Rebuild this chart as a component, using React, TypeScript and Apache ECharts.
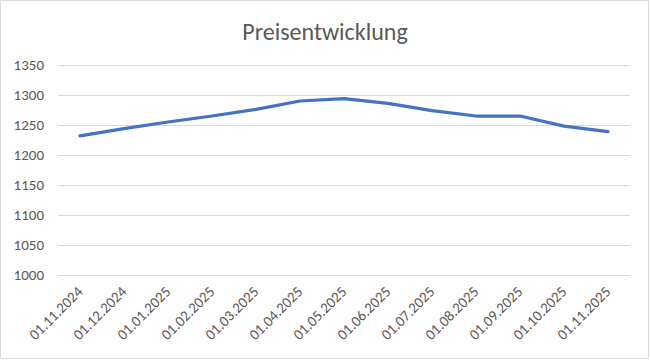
import React, { useEffect, useRef } from "react";
import * as echarts from "echarts";

const categories = [
  "01.11.2024", "01.12.2024", "01.01.2025", "01.02.2025", "01.03.2025",
  "01.04.2025", "01.05.2025", "01.06.2025", "01.07.2025", "01.08.2025",
  "01.09.2025", "01.10.2025", "01.11.2025",
];
const prices = [1232, 1244, 1255, 1265, 1276, 1290, 1294, 1286, 1274, 1265, 1265, 1248, 1239];
const titleText = "Preisentwicklung";

export default function App() {
  const ref = useRef<HTMLDivElement>(null);
  useEffect(() => {
    document.body.style.margin = "0";
    const chart = echarts.init(ref.current!, null, { renderer: "svg" });
    const font = "Calibri, Carlito, 'Open Sans', 'Liberation Sans', sans-serif";
    chart.setOption({
      animation: false,
      backgroundColor: "#ffffff",
      title: {
        text: titleText,
        left: "center",
        top: 14,
        textStyle: { fontFamily: font, fontSize: 24, fontWeight: "normal", color: "#595959" },
      },
      grid: { left: 58, right: 20, top: 65, bottom: 85, containLabel: false },
      xAxis: {
        type: "category",
        data: categories,
        boundaryGap: true,
        axisLine: { show: true, lineStyle: { color: "#d9d9d9", width: 1 } },
        axisTick: { show: false },
        axisLabel: { rotate: 45, interval: 0, color: "#595959", fontFamily: font, fontSize: 15, margin: 14 },
      },
      yAxis: {
        type: "value",
        min: 1000,
        max: 1350,
        interval: 50,
        axisLine: { show: false },
        axisTick: { show: false },
        splitLine: { lineStyle: { color: "#d9d9d9", width: 1 } },
        axisLabel: {
          color: "#595959",
          fontFamily: font,
          fontSize: 15,
          margin: 14,
          formatter: (v: number) => String(v),
        },
      },
      series: [
        {
          type: "line",
          data: prices,
          symbol: "none",
          lineStyle: { color: "#4472C4", width: 3.25, cap: "round", join: "round" },
          itemStyle: { color: "#4472C4" },
        },
      ],
      graphic: [
        {
          type: "rect",
          shape: { x: 0.5, y: 0.5, width: 648, height: 358 },
          style: { fill: "none", stroke: "#d9d9d9", lineWidth: 1 },
          silent: true,
        },
      ],
    });
    return () => chart.dispose();
  }, []);
  return <div ref={ref} style={{ width: 650, height: 360 }} />;
}
